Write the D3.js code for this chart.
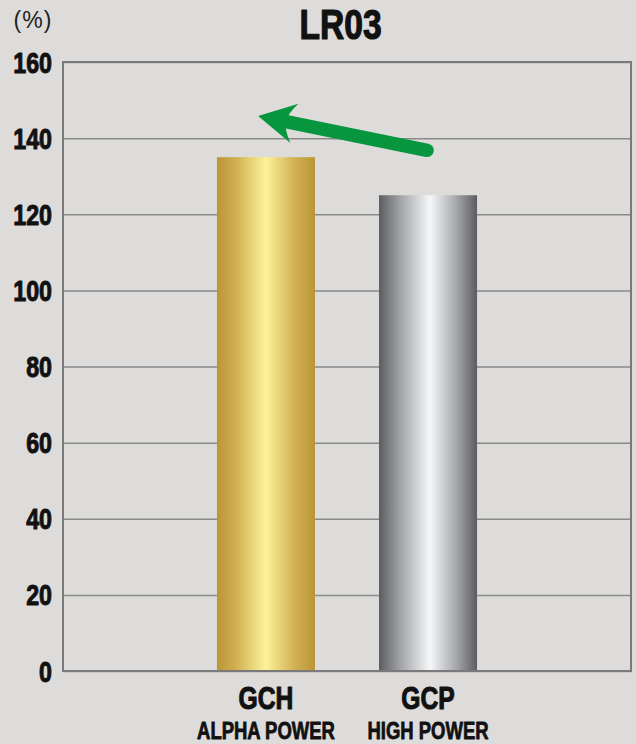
<!DOCTYPE html>
<html><head><meta charset="utf-8">
<script src="https://cdn.jsdelivr.net/npm/d3@7"></script>
<style>
html,body{margin:0;padding:0;background:#dddcdb;}
svg{display:block;}
text{font-family:"Liberation Sans",Arial,Helvetica,sans-serif;}
</style></head>
<body>
<svg id="chart" width="636" height="744"></svg>
<script>
const title = "LR03";
const unitLabel = "(%)";
const categories = ["GCH", "GCP"];
const subLabels = ["ALPHA POWER", "HIGH POWER"];
const values = [135, 125];
const yTicks = [0, 20, 40, 60, 80, 100, 120, 140, 160];
// arrow annotation in data terms: [category, offset within band (0..1), value]
const arrowFrom = ["GCP", 0.49, 136.8];
const arrowTo = ["GCH", 0.42, 145.8];

const W = 636, H = 744;
const margin = {top: 62, right: 5, bottom: 73, left: 63};
const svg = d3.select("#chart");
svg.append("rect").attr("width", W).attr("height", H).attr("fill", "#dddcdb");

const x = d3.scaleBand().domain(categories)
  .range([margin.left, W - margin.right]).paddingInner(0.395).paddingOuter(0.95);
const y = d3.scaleLinear().domain([0, 160]).range([H - margin.bottom, margin.top]);

const defs = svg.append("defs");
function grad(id, stops) {
  const g = defs.append("linearGradient").attr("id", id).attr("x1", "0").attr("x2", "1").attr("y1", "0").attr("y2", "0");
  stops.forEach(s => g.append("stop").attr("offset", s[0]).attr("stop-color", s[1]));
}
grad("gold", [[0, "#bc9634"], [0.2, "#d1b053"], [0.5, "#fdf39a"], [0.78, "#d3b356"], [1, "#bb9434"]]);
grad("silver", [[0, "#5c5d61"], [0.22, "#a3a4a8"], [0.52, "#f6f7f8"], [0.78, "#a9aaae"], [1, "#5b5c60"]]);
const fills = ["url(#gold)", "url(#silver)"];

// condensed heavy text helper: horizontal squeeze around anchor point
function ctext(g, tx, ty, str, size, anchor, sx, sw) {
  return g.append("text")
    .attr("transform", `translate(${tx},${ty}) scale(${sx},1)`)
    .attr("text-anchor", anchor).attr("font-size", size)
    .attr("font-weight", "bold").attr("fill", "#111")
    .attr("stroke", "#111").attr("stroke-width", sw).attr("stroke-linejoin", "round")
    .text(str);
}

// grid lines
const grid = svg.append("g").attr("transform", `translate(${margin.left},0)`)
  .call(d3.axisLeft(y).tickValues(yTicks).tickSize(-(W - margin.right - margin.left)).tickFormat(""));
grid.select(".domain").remove();
grid.selectAll("line").attr("stroke", "#8a8a8a").attr("stroke-width", 1.5);

// bars
svg.append("g").selectAll("rect").data(categories).join("rect")
  .attr("x", d => x(d)).attr("width", x.bandwidth())
  .attr("y", (d, i) => y(values[i])).attr("height", (d, i) => y(0) - y(values[i]))
  .attr("fill", (d, i) => fills[i]);

// frame
svg.append("rect").attr("x", margin.left).attr("y", y(160))
  .attr("width", W - margin.right - margin.left).attr("height", y(0) - y(160))
  .attr("fill", "none").attr("stroke", "#7a7a7a").attr("stroke-width", 2);

// y axis labels
const yl = svg.append("g");
yTicks.forEach(t => ctext(yl, margin.left - 11, y(t) + 10.5, String(t), 29, "end", 0.8, 1));

// unit label
svg.append("text").attr("x", 33).attr("y", 28).attr("text-anchor", "middle")
  .attr("font-size", 23).attr("letter-spacing", 1).attr("fill", "#222").text(unitLabel);

// title
ctext(svg, 340.5, 39, title, 42, "middle", 0.8, 1.2);

// x labels
const xl = svg.append("g");
categories.forEach((c, i) => {
  const cx = x(c) + x.bandwidth() / 2;
  ctext(xl, cx, 709, c, 32, "middle", 0.77, 1.1);
  ctext(xl, cx, 738.5, subLabels[i], 24, "middle", 0.77, 0.8);
});

// arrow
const p0 = [x(arrowFrom[0]) + x.bandwidth() * arrowFrom[1], y(arrowFrom[2])];
const p1 = [x(arrowTo[0]) + x.bandwidth() * arrowTo[1], y(arrowTo[2])];
const ang = Math.atan2(p1[1] - p0[1], p1[0] - p0[0]);
const len = Math.hypot(p1[0] - p0[0], p1[1] - p0[1]);
const ag = svg.append("g").attr("transform", `translate(${p0[0]},${p0[1]}) rotate(${ang * 180 / Math.PI})`);
const green = "#07963e";
ag.append("line").attr("x1", 0).attr("y1", 0).attr("x2", len - 26).attr("y2", 0)
  .attr("stroke", green).attr("stroke-width", 13.5).attr("stroke-linecap", "round");
ag.append("path").attr("fill", green)
  .attr("d", `M${len},0 L${len - 37},-20 Q${len - 29},-9 ${len - 28},0 Q${len - 29},9 ${len - 37},20 Z`);
</script>
</body></html>
